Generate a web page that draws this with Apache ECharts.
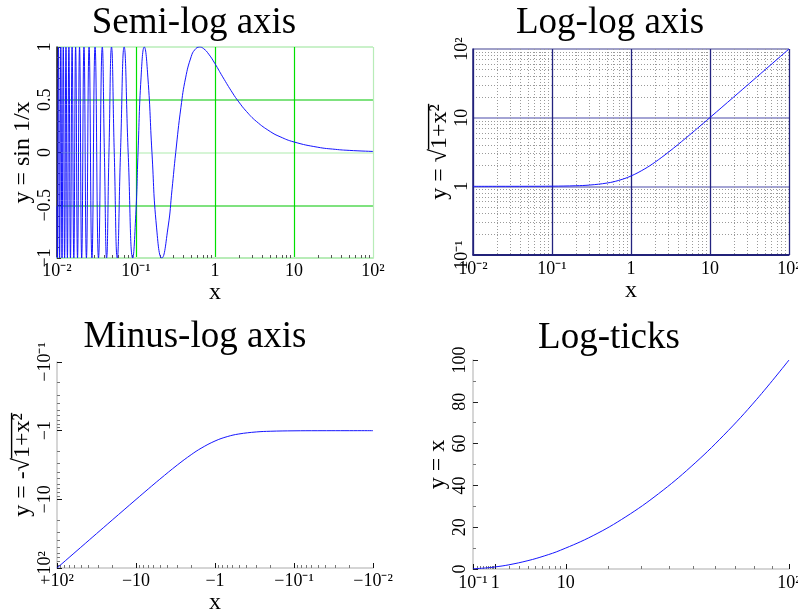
<!DOCTYPE html>
<html><head><meta charset="utf-8">
<script src="https://cdn.jsdelivr.net/npm/echarts@6/dist/echarts.min.js"></script>
<style>html,body{margin:0;padding:0;background:#fff}#c{width:798px;height:611px}</style>
</head><body><div id="c"></div>
<script>
// ---- data: Semi-log axis (y = sin 1/x)
const semiLogX = [0.01, 0.010105, 0.010436, 0.010790, 0.011169, 0.011575, 0.012012, 0.012483, 0.012992, 0.013545,
  0.014147, 0.014805, 0.015527, 0.016324, 0.017206, 0.018189, 0.019292, 0.020536, 0.021953, 0.023579,
  0.025465, 0.027679, 0.030315, 0.033506, 0.037448, 0.039789, 0.042441, 0.045473, 0.048971, 0.053052,
  0.057874, 0.063662, 0.070736, 0.079577, 0.090946, 0.1, 0.1061, 0.1158, 0.1273, 0.1415,
  0.1592, 0.1819, 0.2122, 0.2546, 0.2857, 0.3183, 0.3704, 0.4244, 0.5, 0.5556,
  0.6366, 0.7143, 0.8333, 1, 1.25, 1.667, 2, 2.5, 3.333, 5,
  6.667, 10, 20, 33.3, 50, 100];
const semiLogY = [-0.5064, -1, 1, -1, 1, -1, 1, -1, 1, -1,
  1, -1, 1, -1, 1, -1, 1, -1, 1, -1,
  1, -1, 1, -1, 1, 0, -1, 0, 1, 0,
  -1, 0, 1, 0, -1, -0.544, 0, 0.7071, 1, 0.7071,
  0, -0.7071, -1, -0.7071, -0.3508, 0, 0.4274, 0.7071, 0.9093, 0.9738,
  1, 0.9854, 0.932, 0.8415, 0.7174, 0.5646, 0.4794, 0.3894, 0.2955, 0.1987,
  0.1494, 0.0998, 0.05, 0.03, 0.02, 0.01];
// ---- data: Log-log axis (y = sqrt(1+x^2))
const logLogX = [0.01, 0.05, 0.1, 0.2, 0.3, 0.5, 0.7, 1, 1.5, 2, 3, 5, 7, 10, 20, 50, 100];
const logLogY = [1.00005, 1.00125, 1.005, 1.0198, 1.044, 1.118, 1.2207, 1.4142, 1.8028, 2.2361, 3.1623, 5.099, 7.0711, 10.05, 20.025, 50.01, 100.005];
// ---- data: Minus-log axis (y = -sqrt(1+x^2))
const minusLogX = [-100, -50, -20, -10, -7, -5, -3, -2, -1.5, -1, -0.7, -0.5, -0.3, -0.2, -0.1, -0.05, -0.01];
const minusLogY = [-100.005, -50.01, -20.025, -10.05, -7.0711, -5.099, -3.1623, -2.2361, -1.8028, -1.4142, -1.2207, -1.118, -1.044, -1.0198, -1.005, -1.00125, -1.00005];
// ---- data: Log-ticks (y = x)
const logTicksX = [0.1, 0.5, 1, 2, 4, 6.25, 9, 16, 25, 36, 49, 64, 81, 100];
const logTicksY = [0.1, 0.5, 1, 2, 4, 6.25, 9, 16, 25, 36, 49, 64, 81, 100];
// ---- tick labels
const decadeExps = [-2, -1, 0, 1, 2];
const semiLogXTicks = ['10\u207B\u00B2', '10\u207B\u00B9', '1', '10', '10\u00B2'];
const semiLogYVals = [-1, -0.5, 0, 0.5, 1];
const semiLogYTicks = ['\u22121', '\u22120.5', '0', '0.5', '1'];
const logLogYExps = [-1, 0, 1, 2];
const logLogYTicks = ['10\u207B\u00B9', '1', '10', '10\u00B2'];
const minusLogXTicks = ['\u221210\u207B\u00B2', '\u221210\u207B\u00B9', '\u22121', '\u221210', '\u221210\u00B2'];
const minusLogYTicks = ['\u221210\u207B\u00B9', '\u22121', '\u221210', '\u221210\u00B2'];
const logTicksXVals = [0.1, 1, 10, 100];
const logTicksXTicks = ['10\u207B\u00B9', '1', '10', '10\u00B2'];

const F = "'Liberation Serif', 'Times New Roman', serif";
const lblStyle = { fontFamily: F, fontSize: 18, color: '#000' };
const nameStyle = { fontFamily: F, fontSize: 24, color: '#000' };
const titleStyle = { fontFamily: F, fontSize: 37, fontWeight: 'normal', color: '#000' };
const fmt = (vals, labels) => v => { for (let i = 0; i < vals.length; i++) if (Math.abs(vals[i] - v) < 1e-6) return labels[i]; return ''; };
function logMinor(e0, e1) { const o = []; for (let e = e0; e < e1; e++) for (let m = 2; m <= 9; m++) o.push(Math.log10(m) + e); return o; }
function sqrtMinor(e0, e1) { const o = []; for (let e = e0; e < e1; e++) for (let m = 2; m <= 9; m++) o.push(Math.sqrt(m * Math.pow(10, e))); return o; }
const hidden = { axisLine: { show: false, onZero: false }, axisLabel: { show: false } };

// radical-sign axis names: prefix + overlined radicand, built as rich text
const ctx = document.createElement('canvas').getContext('2d');
ctx.font = "24px 'Liberation Serif'";
function radicalName(prefix, radicand) {
  const w1 = ctx.measureText(prefix).width, w2 = ctx.measureText(radicand).width;
  return {
    name: '{sp| }{bar| }\n{t|' + prefix + radicand + '}',
    style: Object.assign({}, nameStyle, { rich: {
      sp: { width: w1, height: 2, lineHeight: 2, fontSize: 2 },
      bar: { width: w2 + 1, height: 1.4, lineHeight: 2, fontSize: 2, backgroundColor: '#000' },
      t: { fontFamily: F, fontSize: 24, lineHeight: 21, color: '#000' } } })
  };
}
const rn2 = radicalName('y = \u221A', '1+x\u00B2');
const rn3 = radicalName('y = -\u221A', '1+x\u00B2');

const chart = echarts.init(document.getElementById('c'), null, { renderer: 'canvas' });
chart.setOption({
  animation: false,
  backgroundColor: '#fff',
  title: [
    { text: 'Semi-log axis', left: 194, top: 5, textAlign: 'center', padding: 0, textStyle: titleStyle },
    { text: 'Log-log axis', left: 610, top: 5, textAlign: 'center', padding: 0, textStyle: titleStyle },
    { text: 'Minus-log axis', left: 195, top: 319, textAlign: 'center', padding: 0, textStyle: titleStyle },
    { text: 'Log-ticks', left: 609, top: 320, textAlign: 'center', padding: 0, textStyle: titleStyle }
  ],
  grid: [
    { left: 57, top: 47, width: 316, height: 211, containLabel: false, outerBoundsMode: 'none' },
    { left: 473, top: 49, width: 316, height: 206, containLabel: false, outerBoundsMode: 'none' },
    { left: 57, top: 362, width: 316, height: 206, containLabel: false, outerBoundsMode: 'none' },
    { left: 473, top: 360, width: 316, height: 209, containLabel: false, outerBoundsMode: 'none' }
  ],
  xAxis: [
    // panel 1
    { gridIndex: 0, type: 'value', position: 'bottom', min: -2, max: 2, interval: 1,
      name: 'x', nameLocation: 'middle', nameGap: 20, nameTextStyle: nameStyle,
      axisLine: { show: true, onZero: false, lineStyle: { color: '#b8ecb8', width: 2 } },
      axisTick: { show: false },
      axisLabel: Object.assign({ margin: 4, formatter: fmt(decadeExps, semiLogXTicks) }, lblStyle),
      splitLine: { show: true, lineStyle: { color: ['#333', '#00e000', '#00e000', '#00e000', '#b8ecb8'], width: 1.2 } } },
    Object.assign({ gridIndex: 0, type: 'value', position: 'bottom', min: -2, max: 2,
      axisTick: { show: true, inside: true, length: 3, customValues: logMinor(-2, 2), lineStyle: { color: '#555' } },
      splitLine: { show: false } }, hidden),
    // panel 2
    { gridIndex: 1, type: 'value', position: 'bottom', min: -2, max: 2, interval: 1,
      name: 'x', nameLocation: 'middle', nameGap: 13, nameTextStyle: nameStyle,
      axisLine: { show: true, onZero: false, lineStyle: { color: '#22227a', width: 1.5 } },
      axisTick: { show: false },
      axisLabel: Object.assign({ margin: 5, formatter: fmt(decadeExps, semiLogXTicks) }, lblStyle),
      splitLine: { show: true, lineStyle: { color: '#23237f', width: 1.3 } } },
    Object.assign({ gridIndex: 1, type: 'value', position: 'bottom', min: -2, max: 2,
      axisTick: { show: false, customValues: logMinor(-2, 2) },
      splitLine: { show: true, lineStyle: { color: '#9a9a9a', width: 1, type: [1, 2] } } }, hidden),
    // panel 3
    { gridIndex: 2, type: 'value', position: 'bottom', min: -2, max: 2, interval: 1, inverse: true,
      name: 'x', nameLocation: 'middle', nameGap: 20, nameTextStyle: nameStyle,
      axisLine: { show: true, onZero: false, lineStyle: { color: '#c8c8c8', width: 1.5 } },
      axisTick: { show: true, inside: true, length: 5, lineStyle: { color: '#111' } },
      axisLabel: Object.assign({ margin: 4, formatter: fmt(decadeExps, minusLogXTicks) }, lblStyle),
      splitLine: { show: false } },
    Object.assign({ gridIndex: 2, type: 'value', position: 'bottom', min: -2, max: 2, inverse: true,
      axisTick: { show: true, inside: true, length: 3, customValues: logMinor(-2, 2), lineStyle: { color: '#777' } },
      splitLine: { show: false } }, hidden),
    // panel 4
    { gridIndex: 3, type: 'value', position: 'bottom', min: Math.sqrt(0.1), max: 10,
      name: 'x', nameLocation: 'end', nameGap: -4, nameTextStyle: Object.assign({ align: 'center', verticalAlign: 'top', padding: [22, 0, 0, 0] }, nameStyle),
      axisLine: { show: true, onZero: false, lineStyle: { color: '#c8c8c8', width: 1.5 } },
      axisTick: { show: true, inside: true, length: 5, customValues: logTicksXVals.map(Math.sqrt), lineStyle: { color: '#111' } },
      axisLabel: Object.assign({ margin: 5, customValues: logTicksXVals.map(Math.sqrt), formatter: fmt(logTicksXVals.map(Math.sqrt), logTicksXTicks) }, lblStyle),
      splitLine: { show: false } },
    Object.assign({ gridIndex: 3, type: 'value', position: 'bottom', min: Math.sqrt(0.1), max: 10,
      axisTick: { show: true, inside: true, length: 3, customValues: sqrtMinor(-1, 2), lineStyle: { color: '#777' } },
      splitLine: { show: false } }, hidden)
  ],
  yAxis: [
    // panel 1
    { gridIndex: 0, type: 'value', position: 'left', min: -1, max: 1, interval: 0.5,
      name: 'y = sin 1/x', nameLocation: 'middle', nameGap: 12, nameTextStyle: nameStyle,
      axisLine: { show: true, onZero: false, lineStyle: { color: '#222', width: 1.5 } },
      axisTick: { show: true, inside: true, length: 4, lineStyle: { color: '#333' } },
      minorTick: { show: true, splitNumber: 5, length: 3, lineStyle: { color: '#555' } },
      axisLabel: Object.assign({ margin: 3, rotate: 90, formatter: fmt(semiLogYVals, semiLogYTicks) }, lblStyle),
      splitLine: { show: true, lineStyle: { color: ['#b8ecb8', '#55d855', '#c8f2c8', '#55d855', '#b8ecb8'], width: 1.6 } } },
    // panel 2
    { gridIndex: 1, type: 'value', position: 'left', min: -1, max: 2, interval: 1,
      name: rn2.name, nameLocation: 'middle', nameGap: 10, nameTextStyle: rn2.style,
      axisLine: { show: true, onZero: false, lineStyle: { color: '#22227a', width: 1.5 } },
      axisTick: { show: false },
      axisLabel: Object.assign({ margin: 2, rotate: 90, formatter: fmt(logLogYExps, logLogYTicks) }, lblStyle),
      splitLine: { show: true, lineStyle: { color: ['#22227a', '#a4a4d4', '#a4a4d4', '#a0a0c8'], width: 2.2 } } },
    Object.assign({ gridIndex: 1, type: 'value', position: 'left', min: -1, max: 2,
      axisTick: { show: false, customValues: logMinor(-1, 2) },
      splitLine: { show: true, lineStyle: { color: '#9a9a9a', width: 1, type: [1, 2] } } }, hidden),
    // panel 3
    { gridIndex: 2, type: 'value', position: 'left', min: -1, max: 2, interval: 1, inverse: true,
      name: rn3.name, nameLocation: 'middle', nameGap: 14, nameTextStyle: rn3.style,
      axisLine: { show: true, onZero: false, lineStyle: { color: '#c8c8c8', width: 1.5 } },
      axisTick: { show: true, inside: true, length: 5, lineStyle: { color: '#111' } },
      axisLabel: Object.assign({ margin: 3, rotate: 90, formatter: fmt(logLogYExps, minusLogYTicks) }, lblStyle),
      splitLine: { show: false } },
    Object.assign({ gridIndex: 2, type: 'value', position: 'left', min: -1, max: 2, inverse: true,
      axisTick: { show: true, inside: true, length: 3, customValues: logMinor(-1, 2), lineStyle: { color: '#777' } },
      splitLine: { show: false } }, hidden),
    // panel 4
    { gridIndex: 3, type: 'value', position: 'left', min: 0, max: 100, interval: 20,
      name: 'y = x', nameLocation: 'middle', nameGap: 20, nameTextStyle: nameStyle,
      axisLine: { show: true, onZero: false, lineStyle: { color: '#c8c8c8', width: 1.5 } },
      axisTick: { show: true, inside: true, length: 5, lineStyle: { color: '#222' } },
      minorTick: { show: true, splitNumber: 2, length: 3, lineStyle: { color: '#777' } },
      axisLabel: Object.assign({ margin: 4, rotate: 90 }, lblStyle),
      splitLine: { show: false } }
  ],
  series: [
    { type: 'line', xAxisIndex: 0, yAxisIndex: 0, showSymbol: false, smooth: 0.5, clip: true,
      lineStyle: { color: '#1515ff', width: 1 },
      data: semiLogX.map((x, i) => [Math.log10(x), semiLogY[i]]) },
    { type: 'line', xAxisIndex: 2, yAxisIndex: 1, showSymbol: false, smooth: 0.4, clip: true,
      lineStyle: { color: '#1515ff', width: 1 },
      data: logLogX.map((x, i) => [Math.log10(x), Math.log10(logLogY[i])]) },
    { type: 'line', xAxisIndex: 4, yAxisIndex: 3, showSymbol: false, smooth: 0.4, clip: true,
      lineStyle: { color: '#1515ff', width: 1 },
      data: minusLogX.map((x, i) => [Math.log10(-x), Math.log10(-minusLogY[i])]) },
    { type: 'line', xAxisIndex: 6, yAxisIndex: 5, showSymbol: false, smooth: 0.4, clip: true,
      lineStyle: { color: '#1515ff', width: 1 },
      data: logTicksX.map((x, i) => [Math.sqrt(x), logTicksY[i]]) }
  ]
});
</script></body></html>
